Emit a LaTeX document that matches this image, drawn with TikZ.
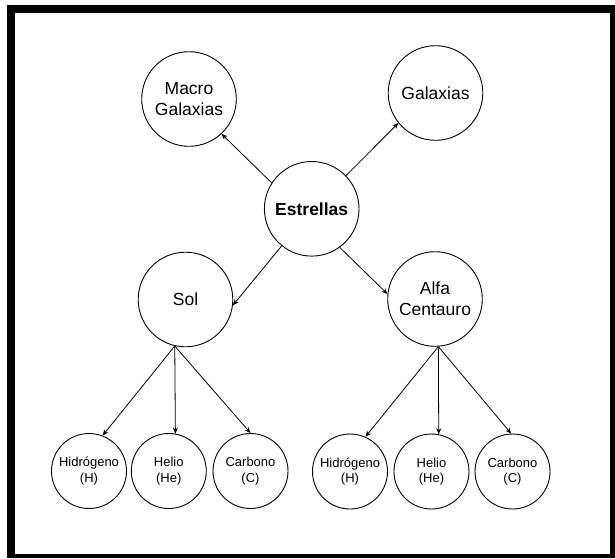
\documentclass[tikz,border=0pt]{standalone}
\usepackage{fontspec}
\setmainfont{Liberation Sans}
\usetikzlibrary{arrows.meta}
\begin{document}
\begin{tikzpicture}[x=1pt,y=-1pt,
  big/.style={circle,draw,line width=0.9pt,minimum size=94.6pt,inner sep=0pt,align=center,font=\fontsize{17.5}{21}\selectfont},
  small/.style={circle,draw,line width=0.9pt,minimum size=75pt,inner sep=0pt,align=center,font=\fontsize{13}{15.5}\selectfont},
  arr/.style={-{Stealth[length=6pt,width=5pt]},line width=0.8pt}]
\useasboundingbox (0,0) rectangle (615,558);
\fill[black] (7,5) rectangle (615,558);
\fill[white] (15,13) rectangle (610,554);

\node[big] (M) at (189,99) {Macro\\Galaxias};
\node[big] (G) at (435.5,93) {Galaxias};
\node[big,font=\fontsize{17.5}{21}\selectfont\bfseries] (E) at (311.7,208.8) {Estrellas};
\node[big] (S) at (185.5,299.5) {Sol};
\node[big] (A) at (435,299) {Alfa\\Centauro};

\node[small] (H1) at (89,471) {Hidrógeno\\(H)};
\node[small] (He1) at (168.8,471) {Helio\\(He)};
\node[small] (C1) at (250.5,471) {Carbono\\(C)};
\node[small] (H2) at (350,471.5) {Hidrógeno\\(H)};
\node[small] (He2) at (431.5,471.5) {Helio\\(He)};
\node[small] (C2) at (512.5,471.5) {Carbono\\(C)};

\draw[arr] (E.147.6) -- (M.313.6);
\draw[arr] (E.44.6) -- (G.219.6);
\draw[arr] (E.231) -- (S.353.4);
\draw[arr] (E.306) -- (A.174.5);

\draw[arr] (S.257) -- (H1.69);
\draw[arr] (S.257) -- (He1.80);
\draw[arr] (S.257) -- (C1.90);
\draw[arr] (A.274) -- (H2.66);
\draw[arr] (A.274) -- (He2.79);
\draw[arr] (A.274) -- (C2.92);
\end{tikzpicture}
\end{document}
